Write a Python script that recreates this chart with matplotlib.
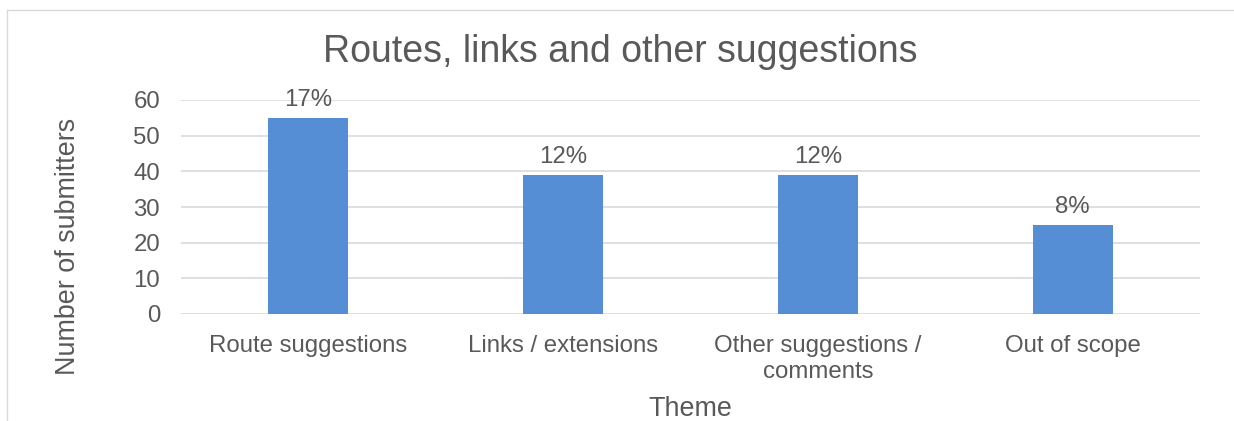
import matplotlib.pyplot as plt
from matplotlib.lines import Line2D

# data
themes = ['Route suggestions', 'Links / extensions', 'Other suggestions /\ncomments', 'Out of scope']
submitters = [55, 39, 39, 25]
shares = ['17%', '12%', '12%', '8%']

plt.rcParams['font.family'] = ['Liberation Sans', 'DejaVu Sans']
grey = '#595959'

fig = plt.figure(figsize=(12.34, 4.21), dpi=100)
ax = fig.add_axes([181 / 1234, 1 - 314 / 421, 1019 / 1234, 214 / 421])

# chart border (only top and left edges fall inside the picture)
top = 1 - 10 / 421
left = 7 / 1234
fig.lines.append(Line2D([left, 1], [top, top], transform=fig.transFigure, color='#d9d9d9', linewidth=1))
fig.lines.append(Line2D([left, left], [0, top], transform=fig.transFigure, color='#d9d9d9', linewidth=1))

x = range(len(themes))
bars = ax.bar(x, submitters, width=0.315, color='#558ed5', zorder=3)
for b, s in zip(bars, shares):
    ax.text(b.get_x() + b.get_width() / 2, b.get_height() + 2.0, s, ha='center', va='bottom',
            fontsize=17.3, color=grey)

ax.set_xlim(-0.5, len(themes) - 0.5)
ax.set_ylim(0, 60)
ax.set_yticks(range(0, 61, 10))
ax.set_xticks(list(x))
ax.set_xticklabels(themes, fontsize=17.3, color=grey, linespacing=1.22)
ax.tick_params(axis='y', labelsize=17.3, labelcolor=grey, length=0, pad=15)
ax.tick_params(axis='x', length=0, pad=15)
ax.grid(axis='y', color='#d9d9d9', linewidth=1.2, zorder=0)
for sp in ax.spines.values():
    sp.set_visible(False)

fig.text(68 / 1234, 1 - 246 / 421, 'Number of submitters', rotation=90, ha='center', va='center',
         fontsize=19.4, color=grey)
fig.text(690 / 1234, 1 - 409 / 421, 'Theme', ha='center', va='center', fontsize=19.4, color=grey)
fig.text(620 / 1234, 1 - 52 / 421, 'Routes, links and other suggestions', ha='center', va='center',
         fontsize=27, color=grey)

fig.savefig('out.png', dpi=100)
